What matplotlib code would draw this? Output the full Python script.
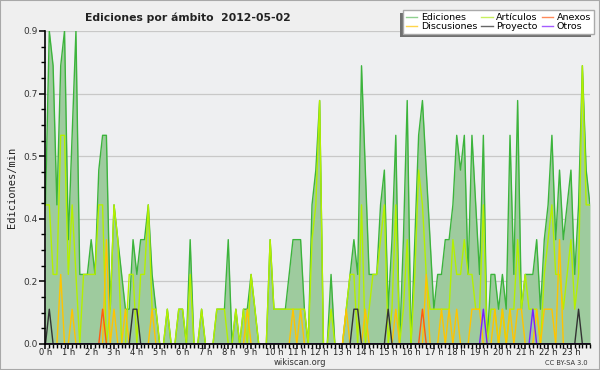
import numpy as np
import matplotlib
matplotlib.use("Agg")
import matplotlib.pyplot as plt
from matplotlib.patches import Rectangle
from matplotlib.lines import Line2D

# ---- data (edits per minute, 10-minute bins, 144 bins over the day) ----
ediciones = [
    0.4, 0.9, 0.8, 0.4, 0.8, 0.9, 0.3, 0.6, 0.9, 0.2,
    0.2, 0.2, 0.3, 0.2, 0.5, 0.6, 0.6, 0.1, 0.4, 0.3,
    0.2, 0.1, 0.1, 0.3, 0.2, 0.3, 0.3, 0.4, 0.2, 0.1,
    0.0, 0.0, 0.1, 0.0, 0.0, 0.1, 0.1, 0.0, 0.3, 0.0,
    0.0, 0.1, 0.0, 0.0, 0.0, 0.1, 0.1, 0.1, 0.3, 0.0,
    0.1, 0.0, 0.1, 0.1, 0.2, 0.1, 0.0, 0.0, 0.0, 0.3,
    0.1, 0.1, 0.1, 0.1, 0.2, 0.3, 0.3, 0.3, 0.1, 0.0,
    0.4, 0.5, 0.7, 0.0, 0.0, 0.2, 0.0, 0.0, 0.0, 0.1,
    0.2, 0.3, 0.2, 0.8, 0.5, 0.2, 0.2, 0.2, 0.4, 0.5,
    0.1, 0.3, 0.6, 0.0, 0.3, 0.7, 0.0, 0.3, 0.6, 0.7,
    0.5, 0.3, 0.1, 0.2, 0.2, 0.3, 0.3, 0.4, 0.6, 0.5,
    0.6, 0.2, 0.6, 0.4, 0.2, 0.6, 0.0, 0.2, 0.2, 0.1,
    0.2, 0.1, 0.6, 0.2, 0.7, 0.1, 0.2, 0.2, 0.2, 0.3,
    0.1, 0.3, 0.4, 0.6, 0.3, 0.5, 0.3, 0.4, 0.5, 0.2,
    0.4, 0.8, 0.5, 0.4,
]
articulos = [
    0.4, 0.4, 0.2, 0.2, 0.6, 0.6, 0.2, 0.4, 0.2, 0.0,
    0.2, 0.2, 0.2, 0.2, 0.4, 0.4, 0.0, 0.1, 0.4, 0.3,
    0.0, 0.0, 0.2, 0.2, 0.0, 0.2, 0.2, 0.4, 0.1, 0.1,
    0.0, 0.0, 0.1, 0.0, 0.0, 0.1, 0.1, 0.0, 0.2, 0.0,
    0.0, 0.1, 0.0, 0.0, 0.0, 0.1, 0.1, 0.1, 0.0, 0.0,
    0.1, 0.0, 0.1, 0.0, 0.2, 0.1, 0.0, 0.0, 0.0, 0.3,
    0.1, 0.1, 0.1, 0.1, 0.1, 0.1, 0.1, 0.1, 0.1, 0.0,
    0.3, 0.4, 0.7, 0.0, 0.0, 0.1, 0.0, 0.0, 0.0, 0.1,
    0.2, 0.2, 0.0, 0.4, 0.0, 0.1, 0.2, 0.2, 0.3, 0.4,
    0.0, 0.1, 0.4, 0.0, 0.1, 0.3, 0.0, 0.2, 0.5, 0.4,
    0.2, 0.1, 0.1, 0.1, 0.1, 0.1, 0.1, 0.3, 0.2, 0.2,
    0.3, 0.2, 0.2, 0.1, 0.1, 0.4, 0.0, 0.1, 0.1, 0.0,
    0.1, 0.0, 0.1, 0.1, 0.3, 0.1, 0.2, 0.1, 0.1, 0.1,
    0.0, 0.2, 0.3, 0.4, 0.2, 0.2, 0.1, 0.2, 0.3, 0.1,
    0.2, 0.8, 0.4, 0.4,
]
# sparse series: {bin index: value}
discusiones_pts = {4: 0.2, 7: 0.1, 16: 0.3, 18: 0.1, 21: 0.1, 28: 0.1, 53: 0.1,
                   65: 0.1, 67: 0.1, 79: 0.1, 84: 0.1, 92: 0.1, 100: 0.2, 104: 0.1,
                   106: 0.1, 108: 0.1, 112: 0.1, 113: 0.1, 114: 0.1, 118: 0.1,
                   120: 0.1, 122: 0.1, 124: 0.1, 125: 0.1, 129: 0.1, 131: 0.1,
                   132: 0.1, 133: 0.1, 135: 0.3}
anexos_pts = {15: 0.1, 99: 0.1}
proyecto_pts = {1: 0.1, 23: 0.1, 24: 0.1, 81: 0.1, 82: 0.1, 90: 0.1, 140: 0.1}
otros_pts = {115: 0.1, 128: 0.1}

n_bins = len(ediciones)
bin_minutes = 10
hour_labels = [f"{h} h" for h in range(24)]
ytick_values = [0.0, 0.18, 0.36, 0.54, 0.72, 0.9]
ytick_labels = ["0.0", "0.2", "0.4", "0.5", "0.7", "0.9"]
legend_labels = ["Ediciones", "Discusiones", "Artículos", "Proyecto", "Anexos", "Otros"]


def dense(pts):
    arr = np.zeros(n_bins)
    for k, v in pts.items():
        arr[k] = v
    return arr


x = np.arange(n_bins) * bin_minutes / 60.0
E = np.array(ediciones)
L = np.array(articulos)
D = dense(discusiones_pts)
A = dense(anexos_pts)
P = dense(proyecto_pts)
O = dense(otros_pts)

BG = "#eeeff1"
fig = plt.figure(figsize=(6.0, 3.7), dpi=100, facecolor="#efefef")
fig.patches.append(Rectangle((0, 0), 1, 1, transform=fig.transFigure, fill=False,
                             edgecolor="#a8a8a8", linewidth=1.5, zorder=10))
ax = fig.add_axes([0.0758, 0.0703, 0.9075, 0.846])
ax.set_facecolor(BG)

c_ed_fill = "#9ecb9e"
c_ed = "#3cb43c"
c_art = "#b4f000"
c_dis = "#ffc400"
c_anx = "#ff5a10"
c_pro = "#333333"
c_otr = "#7a1fff"

ax.fill_between(x, 0, E, color=c_ed_fill, linewidth=0, zorder=2)
ax.plot(x, E, color=c_ed, lw=1.0, zorder=3)
ax.plot(x, L, color=c_art, lw=1.0, zorder=4)
ax.plot(x, D, color=c_dis, lw=1.0, zorder=5)
ax.plot(x, A, color=c_anx, lw=1.0, zorder=6)
ax.plot(x, P, color=c_pro, lw=1.0, zorder=6)
ax.plot(x, O, color=c_otr, lw=1.0, zorder=6)

ax.set_xlim(0, x[-1])
ax.set_ylim(0, 0.9)
ax.set_yticks(ytick_values)
ax.set_yticklabels(ytick_labels)
ax.set_yticks(np.arange(0, 0.9001, 0.045), minor=True)
ax.set_xticks(np.arange(24))
ax.set_xticklabels(hour_labels)
ax.set_xticks(np.arange(0, x[-1] + 0.01, 1 / 6), minor=True)
ax.grid(axis="y", which="major", color="#c8c8c8", lw=0.9, zorder=1)
ax.set_axisbelow(True)

for s in ["top", "right"]:
    ax.spines[s].set_visible(False)
for s in ["left", "bottom"]:
    ax.spines[s].set_color("black")
    ax.spines[s].set_linewidth(1.2)
    ax.spines[s].set_zorder(8)

ax.tick_params(axis="y", which="major", direction="out", length=4, width=1.1,
               color="black", labelsize=6.5, labelcolor="#333333", pad=1.5)
ax.tick_params(axis="x", which="major", direction="out", length=3.5, width=1.1,
               color="black", labelsize=6, labelcolor="#222222", pad=-0.5)
ax.tick_params(axis="both", which="minor", direction="out", length=3, width=1.0,
               color="black")

ax.set_ylabel("Ediciones/min", family="DejaVu Sans Mono", fontsize=7.5,
              color="#222222", labelpad=5)

fig.text(0.313, 0.952, "Ediciones por ámbito  2012-05-02", ha="center", va="center",
         fontsize=7.8, fontweight="bold", color="#222222")
fig.text(0.5, 0.019, "wikiscan.org", ha="center", va="center", fontsize=6.0,
         color="#333333")
fig.text(0.944, 0.02, "CC BY-SA 3.0", ha="center", va="center", fontsize=4.8,
         color="#333333")

leg_colors = ["#8fd08f", "#ffd54a", "#c8f060", "#666666", "#ff8a5a", "#a45cff"]
handles = [Line2D([], [], color=c, lw=1.0) for c in leg_colors]
leg = fig.legend(handles, legend_labels, ncol=3, loc="upper right",
                 bbox_to_anchor=(0.99, 0.973), fontsize=6.8, frameon=True,
                 fancybox=False, edgecolor="#aaaaaa", facecolor="white",
                 framealpha=1.0, handlelength=1.2, handletextpad=0.4,
                 columnspacing=0.4, labelspacing=0.05, borderpad=0.3,
                 borderaxespad=0.0)
leg.set_zorder(9)
fig.canvas.draw()
bb = leg.get_window_extent().transformed(fig.transFigure.inverted())
fig.patches.append(Rectangle((bb.x0 - 3 / 600, bb.y0 - 3 / 370), bb.width, bb.height,
                             transform=fig.transFigure, facecolor="#707070",
                             edgecolor="none", zorder=8.5))

fig.savefig("out.png", dpi=100, facecolor=fig.get_facecolor())
